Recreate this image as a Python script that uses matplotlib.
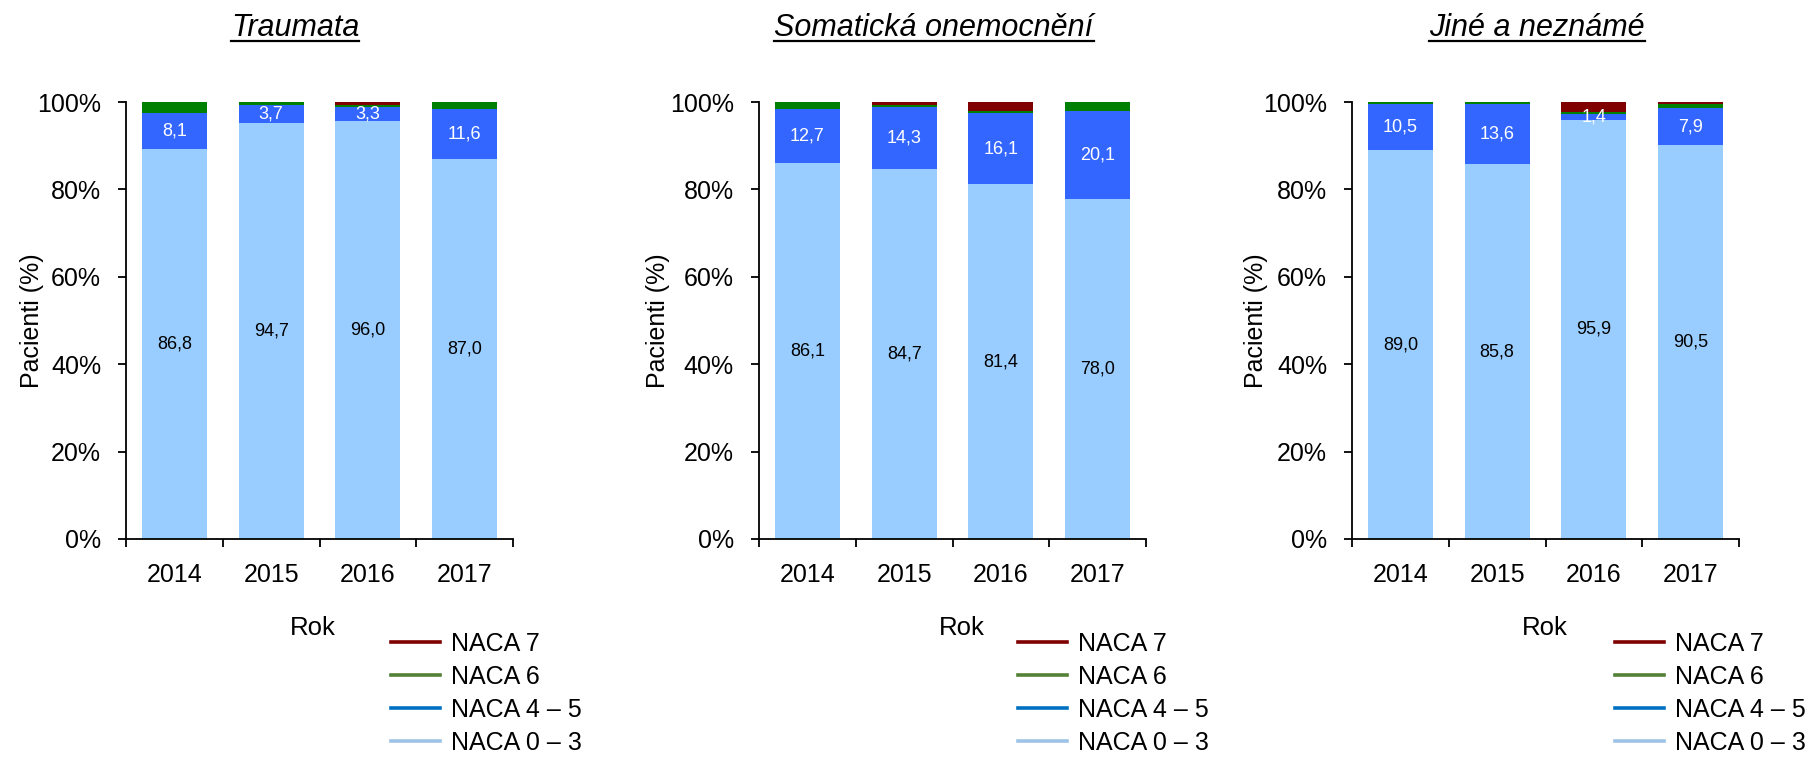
import numpy as np
import matplotlib
matplotlib.use("Agg")
import matplotlib.pyplot as plt
from matplotlib.lines import Line2D

plt.rcParams['font.family'] = ['Liberation Sans', 'DejaVu Sans']

years = ['2014', '2015', '2016', '2017']
titles = ['Traumata', 'Somatická onemocnění', 'Jiné a neznámé']
legend_names = ['NACA 7', 'NACA 6', 'NACA 4 – 5', 'NACA 0 – 3']

# segment heights as drawn (%), per panel
trauma_03 = [89.2, 95.2, 95.7, 87.0]
trauma_45 = [8.3, 4.1, 3.2, 11.4]
trauma_6 = [2.5, 0.7, 0.5, 1.6]
trauma_7 = [0.0, 0.0, 0.6, 0.0]

soma_03 = [86.1, 84.7, 81.2, 77.7]
soma_45 = [12.3, 14.1, 16.3, 20.2]
soma_6 = [1.6, 0.5, 0.5, 2.1]
soma_7 = [0.0, 0.7, 2.0, 0.0]

other_03 = [89.0, 85.8, 95.9, 90.1]
other_45 = [10.6, 13.8, 1.4, 8.5]
other_6 = [0.4, 0.4, 0.5, 0.9]
other_7 = [0.0, 0.0, 2.2, 0.5]

# printed labels
trauma_lab_03 = ['86,8', '94,7', '96,0', '87,0']
trauma_lab_45 = ['8,1', '3,7', '3,3', '11,6']
soma_lab_03 = ['86,1', '84,7', '81,4', '78,0']
soma_lab_45 = ['12,7', '14,3', '16,1', '20,1']
other_lab_03 = ['89,0', '85,8', '95,9', '90,5']
other_lab_45 = ['10,5', '13,6', '1,4', '7,9']

panels = [
    ([trauma_03, trauma_45, trauma_6, trauma_7], trauma_lab_03, trauma_lab_45),
    ([soma_03, soma_45, soma_6, soma_7], soma_lab_03, soma_lab_45),
    ([other_03, other_45, other_6, other_7], other_lab_03, other_lab_45),
]

bar_colors = ['#99CCFF', '#3366FF', '#008000', '#800000']
legend_colors = ['#7F0000', '#538135', '#0070C0', '#9DC3E6']

W, H = 1818, 757
fig = plt.figure(figsize=(W / 100, H / 100), dpi=100)


def fx(px):
    return px / W


def fy(py):
    return 1 - py / H


ax_lefts = [126, 759, 1352]
ax_w, ax_top, ax_bot = 387, 102, 539
title_x = [295, 934, 1537]
rok_x = [313, 962, 1545]
ylab_x = [32, 658, 1256]
leg_x = [391, 1018, 1615]

x = np.arange(len(years))
title_texts = []

for i, (segs, lab03, lab45) in enumerate(panels):
    ax = fig.add_axes([fx(ax_lefts[i]), fy(ax_bot), ax_w / W, (ax_bot - ax_top) / H])
    bottom = np.zeros(len(years))
    for vals, col in zip(segs, bar_colors):
        ax.bar(x, vals, 0.67, bottom=bottom, color=col, linewidth=0)
        bottom += np.array(vals)

    n03 = np.array(segs[0])
    n45 = np.array(segs[1])
    for j in range(len(years)):
        ax.text(x[j], n03[j] / 2, lab03[j], ha='center', va='center',
                fontsize=13, color='black')
        ax.text(x[j], n03[j] + n45[j] / 2, lab45[j], ha='center', va='center',
                fontsize=13, color='white')

    ax.set_xlim(-0.5, 3.5)
    ax.set_ylim(0, 100)
    ax.set_yticks(np.arange(0, 101, 20))
    ax.set_yticklabels([f'{v}%' for v in range(0, 101, 20)], fontsize=18)
    ax.set_xticks(np.arange(-0.5, 4, 1))
    ax.set_xticklabels([])
    ax.set_xticks(x, minor=True)
    ax.set_xticklabels(years, minor=True, fontsize=18)
    ax.tick_params(axis='x', which='major', direction='out', length=6, width=1.3)
    ax.tick_params(axis='x', which='minor', length=0, pad=17.5)
    ax.tick_params(axis='y', direction='out', length=6, width=1.3, pad=12)
    for side in ['top', 'right']:
        ax.spines[side].set_visible(False)
    for side in ['left', 'bottom']:
        ax.spines[side].set_linewidth(1.3)

    t = fig.text(fx(title_x[i]), fy(36), titles[i], ha='center', va='baseline',
                 fontsize=22, fontstyle='italic')
    title_texts.append(t)
    fig.text(fx(rok_x[i]), fy(628), 'Rok', ha='center', va='center', fontsize=18.5)
    fig.text(fx(ylab_x[i]), fy(321), 'Pacienti (%)', ha='center', va='center',
             rotation=90, fontsize=18)

    handles = [Line2D([], [], color=c, lw=2.6) for c in legend_colors]
    fig.legend(handles, legend_names, loc='upper left',
               bbox_to_anchor=(fx(leg_x[i]), fy(632)), frameon=False,
               fontsize=18, borderpad=0, borderaxespad=0, handlelength=1.95,
               handletextpad=0.45, labelspacing=0.36)

# underline the titles
fig.canvas.draw()
renderer = fig.canvas.get_renderer()
for t in title_texts:
    bb = t.get_window_extent(renderer)
    fig.add_artist(Line2D([bb.x0 / W, bb.x1 / W], [fy(41), fy(41)],
                          transform=fig.transFigure, color='black', lw=1.6))

fig.savefig('out.png', dpi=100)
